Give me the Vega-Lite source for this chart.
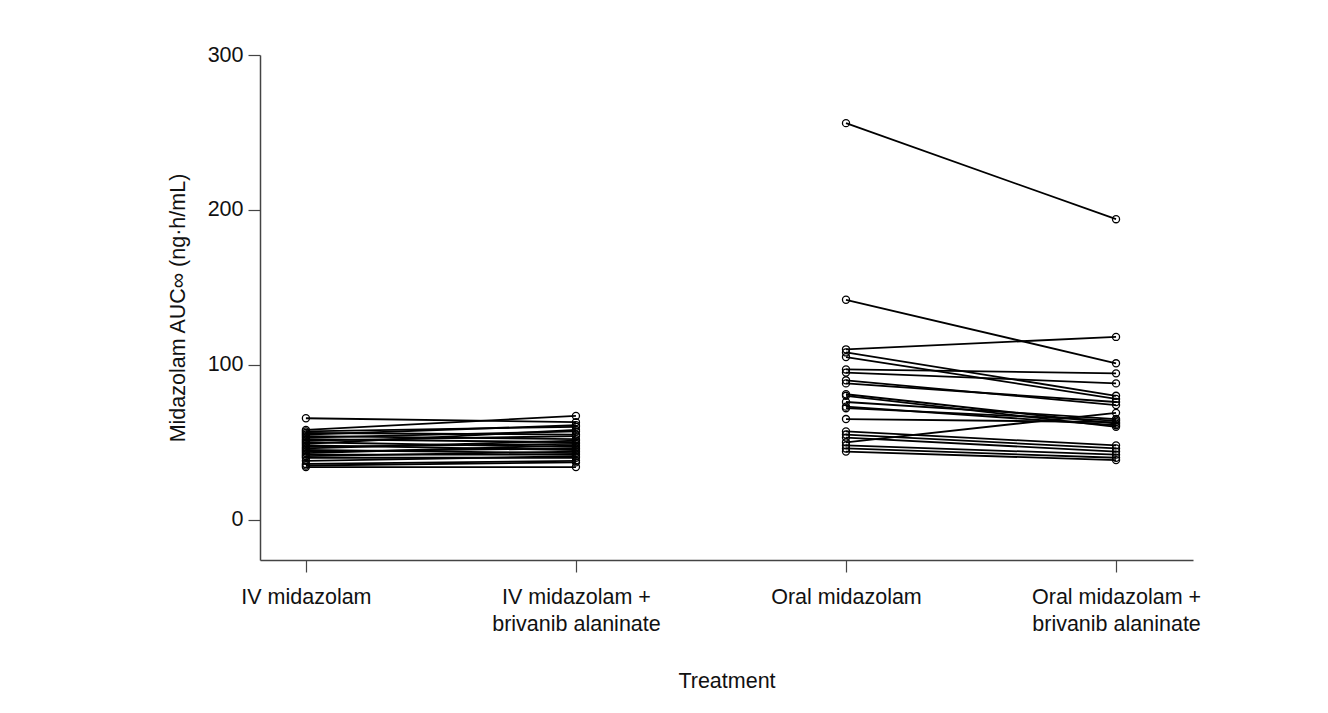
{
  "$schema": "https://vega.github.io/schema/vega-lite/v6.json",
  "width": 933,
  "height": 505,
  "autosize": {"type": "none"},
  "padding": {"left": 260, "top": 55, "right": 135, "bottom": 153},
  "background": "white",
  "config": {
    "view": {"stroke": null},
    "font": "Liberation Sans",
    "axis": {
      "labelFont": "Liberation Sans",
      "titleFont": "Liberation Sans",
      "labelFontSize": 21.5,
      "titleFontSize": 21.5,
      "titleFontWeight": "normal",
      "labelColor": "#111",
      "titleColor": "#111",
      "domainColor": "#444",
      "tickColor": "#444",
      "domainWidth": 1.5,
      "tickWidth": 1.2,
      "tickSize": 12,
      "grid": false
    }
  },
  "datasets": {
    "auc": [
      {"subject": "IV01", "treatment": 1, "auc": 65.5}, {"subject": "IV01", "treatment": 2, "auc": 63},
      {"subject": "IV02", "treatment": 1, "auc": 58}, {"subject": "IV02", "treatment": 2, "auc": 67},
      {"subject": "IV03", "treatment": 1, "auc": 57}, {"subject": "IV03", "treatment": 2, "auc": 60},
      {"subject": "IV04", "treatment": 1, "auc": 56}, {"subject": "IV04", "treatment": 2, "auc": 55},
      {"subject": "IV05", "treatment": 1, "auc": 55}, {"subject": "IV05", "treatment": 2, "auc": 61},
      {"subject": "IV06", "treatment": 1, "auc": 54}, {"subject": "IV06", "treatment": 2, "auc": 52},
      {"subject": "IV07", "treatment": 1, "auc": 53}, {"subject": "IV07", "treatment": 2, "auc": 57},
      {"subject": "IV08", "treatment": 1, "auc": 52}, {"subject": "IV08", "treatment": 2, "auc": 50},
      {"subject": "IV09", "treatment": 1, "auc": 51}, {"subject": "IV09", "treatment": 2, "auc": 54},
      {"subject": "IV10", "treatment": 1, "auc": 50}, {"subject": "IV10", "treatment": 2, "auc": 47},
      {"subject": "IV11", "treatment": 1, "auc": 49}, {"subject": "IV11", "treatment": 2, "auc": 58},
      {"subject": "IV12", "treatment": 1, "auc": 48}, {"subject": "IV12", "treatment": 2, "auc": 45},
      {"subject": "IV13", "treatment": 1, "auc": 47}, {"subject": "IV13", "treatment": 2, "auc": 49},
      {"subject": "IV14", "treatment": 1, "auc": 46}, {"subject": "IV14", "treatment": 2, "auc": 51},
      {"subject": "IV15", "treatment": 1, "auc": 45}, {"subject": "IV15", "treatment": 2, "auc": 43},
      {"subject": "IV16", "treatment": 1, "auc": 44}, {"subject": "IV16", "treatment": 2, "auc": 46},
      {"subject": "IV17", "treatment": 1, "auc": 43}, {"subject": "IV17", "treatment": 2, "auc": 48},
      {"subject": "IV18", "treatment": 1, "auc": 42}, {"subject": "IV18", "treatment": 2, "auc": 42},
      {"subject": "IV19", "treatment": 1, "auc": 41}, {"subject": "IV19", "treatment": 2, "auc": 44},
      {"subject": "IV20", "treatment": 1, "auc": 40}, {"subject": "IV20", "treatment": 2, "auc": 40},
      {"subject": "IV21", "treatment": 1, "auc": 38}, {"subject": "IV21", "treatment": 2, "auc": 41},
      {"subject": "IV22", "treatment": 1, "auc": 36}, {"subject": "IV22", "treatment": 2, "auc": 38},
      {"subject": "IV23", "treatment": 1, "auc": 35}, {"subject": "IV23", "treatment": 2, "auc": 37},
      {"subject": "IV24", "treatment": 1, "auc": 34}, {"subject": "IV24", "treatment": 2, "auc": 34},
      {"subject": "OR01", "treatment": 3, "auc": 256}, {"subject": "OR01", "treatment": 4, "auc": 194},
      {"subject": "OR02", "treatment": 3, "auc": 142}, {"subject": "OR02", "treatment": 4, "auc": 101},
      {"subject": "OR03", "treatment": 3, "auc": 110}, {"subject": "OR03", "treatment": 4, "auc": 118},
      {"subject": "OR04", "treatment": 3, "auc": 108}, {"subject": "OR04", "treatment": 4, "auc": 80},
      {"subject": "OR05", "treatment": 3, "auc": 105}, {"subject": "OR05", "treatment": 4, "auc": 78},
      {"subject": "OR06", "treatment": 3, "auc": 97}, {"subject": "OR06", "treatment": 4, "auc": 94.5},
      {"subject": "OR07", "treatment": 3, "auc": 95}, {"subject": "OR07", "treatment": 4, "auc": 88},
      {"subject": "OR08", "treatment": 3, "auc": 90}, {"subject": "OR08", "treatment": 4, "auc": 74},
      {"subject": "OR09", "treatment": 3, "auc": 88}, {"subject": "OR09", "treatment": 4, "auc": 76},
      {"subject": "OR10", "treatment": 3, "auc": 81}, {"subject": "OR10", "treatment": 4, "auc": 62},
      {"subject": "OR11", "treatment": 3, "auc": 80}, {"subject": "OR11", "treatment": 4, "auc": 60},
      {"subject": "OR12", "treatment": 3, "auc": 76}, {"subject": "OR12", "treatment": 4, "auc": 65},
      {"subject": "OR13", "treatment": 3, "auc": 73}, {"subject": "OR13", "treatment": 4, "auc": 61},
      {"subject": "OR14", "treatment": 3, "auc": 72}, {"subject": "OR14", "treatment": 4, "auc": 64},
      {"subject": "OR15", "treatment": 3, "auc": 65}, {"subject": "OR15", "treatment": 4, "auc": 63},
      {"subject": "OR16", "treatment": 3, "auc": 50}, {"subject": "OR16", "treatment": 4, "auc": 69},
      {"subject": "OR17", "treatment": 3, "auc": 57}, {"subject": "OR17", "treatment": 4, "auc": 48},
      {"subject": "OR18", "treatment": 3, "auc": 55}, {"subject": "OR18", "treatment": 4, "auc": 46},
      {"subject": "OR19", "treatment": 3, "auc": 53}, {"subject": "OR19", "treatment": 4, "auc": 44},
      {"subject": "OR20", "treatment": 3, "auc": 48}, {"subject": "OR20", "treatment": 4, "auc": 42},
      {"subject": "OR21", "treatment": 3, "auc": 46}, {"subject": "OR21", "treatment": 4, "auc": 40},
      {"subject": "OR22", "treatment": 3, "auc": 44}, {"subject": "OR22", "treatment": 4, "auc": 38.5}
    ]
  },
  "data": {"name": "auc"},
  "encoding": {
    "x": {
      "field": "treatment",
      "type": "quantitative",
      "scale": {"domain": [0.83, 4.285], "nice": false, "zero": false},
      "axis": {
        "values": [1, 2, 3, 4],
        "title": "Treatment",
        "titlePadding": 36,
        "labelPadding": 14,
        "labelBaseline": "top",
        "labelLineHeight": 27,
        "labelExpr": "datum.value == 1 ? 'IV midazolam' : datum.value == 2 ? ['IV midazolam +', 'brivanib alaninate'] : datum.value == 3 ? 'Oral midazolam' : ['Oral midazolam +', 'brivanib alaninate']"
      }
    },
    "y": {
      "field": "auc",
      "type": "quantitative",
      "scale": {"domain": [-26, 300], "nice": false, "zero": false},
      "axis": {
        "values": [0, 100, 200, 300],
        "title": "Midazolam AUC∞ (ng·h/mL)",
        "titlePadding": 18,
        "labelPadding": 5
      }
    }
  },
  "layer": [
    {
      "mark": {"type": "line", "color": "black", "strokeWidth": 1.8},
      "encoding": {"detail": {"field": "subject"}, "order": {"field": "treatment"}}
    },
    {
      "mark": {"type": "point", "shape": "circle", "filled": false, "color": "black", "strokeWidth": 1.3, "size": 50, "opacity": 1}
    }
  ]
}
